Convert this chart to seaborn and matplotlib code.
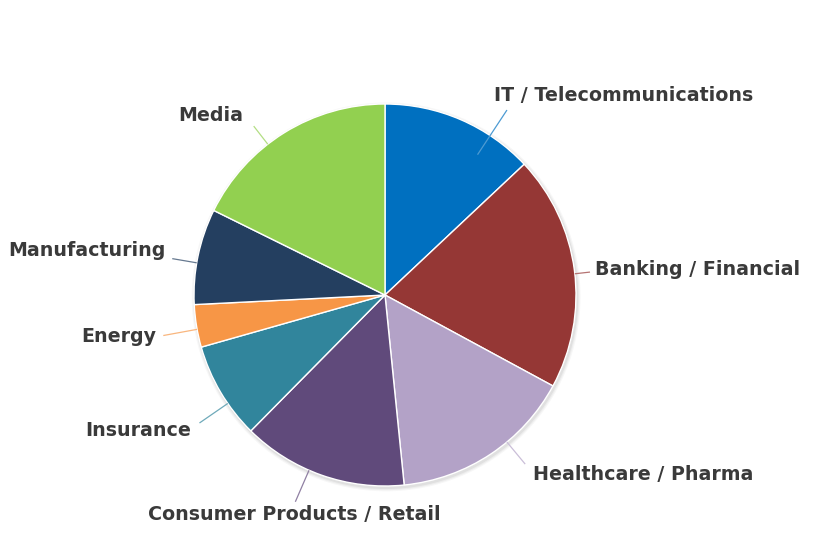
import numpy as np
import matplotlib
matplotlib.use("Agg")
import matplotlib.pyplot as plt
import matplotlib.colors as mcolors
import seaborn as sns
from matplotlib.patches import Circle

# ---- data (shares in %) ----
sectors = ["IT / Telecommunications", "Banking / Financial", "Healthcare / Pharma",
           "Consumer Products / Retail", "Insurance", "Energy", "Manufacturing", "Media"]
shares = [13.0, 19.9, 15.5, 14.0, 8.2, 3.6, 8.1, 17.7]
colors = ["#0070C0", "#953735", "#B3A2C7", "#604A7B", "#31859C", "#F79646", "#243F60", "#92D050"]

# ---- label layout (connector angle nudge, inner/outer radius, text offset px, alignment) ----
nudge = [10, 1, -6, 4, -4, -1, -2, -6]
r_in = [0.88, 1.0, 1.0, 1.0, 1.0, 1.0, 1.0, 1.0]
r_out = [1.16, 1.08, 1.15, 1.18, 1.18, 1.18, 1.13, 1.12]
txt_dx = [-13, 5, 8, -1, -8, -7, -7, -10]
txt_dy = [-15, -3, 10, 13, 8, 1, -8, -11]
align = ["left", "left", "left", "center", "right", "right", "right", "right"]

sns.set_theme(style="white")
plt.rcParams["font.family"] = ["DejaVu Sans"]

W, H, DPI = 813, 538, 100
fig = plt.figure(figsize=(W / DPI, H / DPI), dpi=DPI)
ax = fig.add_axes([0, 0, 1, 1])
cx, cy, R = 385, 295, 191  # pixel geometry of the pie

# soft shadow
for i, a in enumerate([0.05, 0.04, 0.03]):
    ax.add_patch(Circle((0.006, -0.010), 1.0 + 0.006 * (i + 1), color="black", alpha=a, lw=0, zorder=0))

wedges, _ = ax.pie(shares, colors=colors, startangle=90, counterclock=False, radius=1,
                   center=(0, 0), frame=True,
                   wedgeprops=dict(edgecolor="white", linewidth=1.0))
for w in wedges:
    w.set_zorder(2)
ax.set_xlim(-cx / R, (W - cx) / R)
ax.set_ylim(-(H - cy) / R, cy / R)
ax.set_aspect("auto")
ax.axis("off")


def tint(c, f=0.3):
    r, g, b = mcolors.to_rgb(c)
    return (r + (1 - r) * f, g + (1 - g) * f, b + (1 - b) * f)


total = float(sum(shares))
cum = np.cumsum([0] + shares[:-1])
for i, (name, s) in enumerate(zip(sectors, shares)):
    mid = (cum[i] + s / 2) / total * 360 + nudge[i]
    t = np.deg2rad(mid)
    ux, uy = np.sin(t), np.cos(t)
    x0, y0 = r_in[i] * ux, r_in[i] * uy
    x1, y1 = r_out[i] * ux, r_out[i] * uy
    ax.plot([x0, x1], [y0, y1], color=tint(colors[i]), lw=0.9, zorder=3, solid_capstyle="butt")
    ax.text(x1 + txt_dx[i] / R, y1 - txt_dy[i] / R, name, ha=align[i], va="center",
            fontsize=13.7, fontweight="bold", color="#3A3A3A", zorder=4)

fig.savefig("out.png", dpi=DPI)
